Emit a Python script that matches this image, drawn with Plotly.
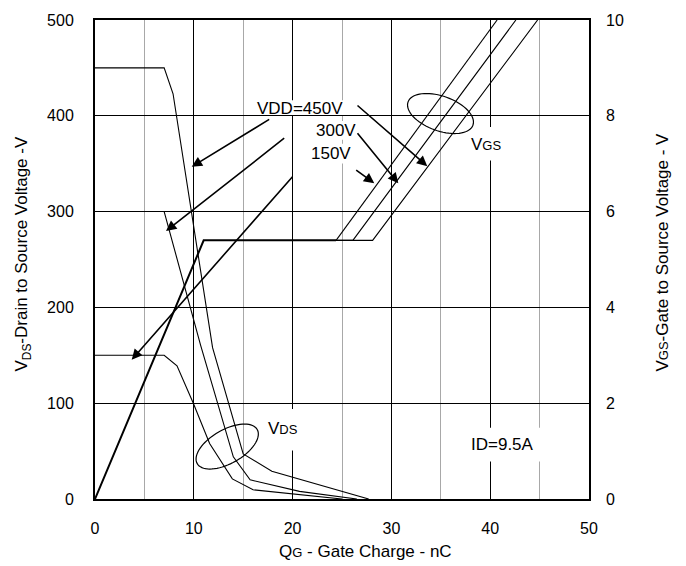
import numpy as np
import plotly.graph_objects as go

# ---------------- data ----------------
vds150_q = [0, 7.0, 8.3, 9.95, 11.6, 13.9, 16.0, 20.7, 25.0]
vds150_v = [150, 150, 139, 100, 58, 21, 9.6, 4.4, 0]
vds300_q = [7.0, 10.7, 14.0, 15.7, 20.7, 26.5]
vds300_v = [300, 160, 44, 20, 8, 0]
vds450_q = [0, 7.0, 7.9, 11.9, 15.0, 17.9, 27.7]
vds450_v = [450, 450, 423, 158, 47, 29, 0]

vgs_main_q = [0, 11.0, 24.4]
vgs_main_v = [0, 5.4, 5.4]
vgs150_q = [24.4, 40.7]
vgs150_v = [5.4, 10.0]
vgs300_q = [24.4, 26.1, 42.6]
vgs300_v = [5.4, 5.4, 10.0]
vgs450_q = [24.4, 28.1, 44.8]
vgs450_v = [5.4, 5.4, 10.0]

x_ticks = [0, 10, 20, 30, 40, 50]
y_ticks = [0, 100, 200, 300, 400, 500]
y2_ticks = [0, 2, 4, 6, 8, 10]

FONT = "Liberation Sans, Arial, sans-serif"
W, H = 686, 566
L, R, T, B = 95, 97, 15, 67
PW, PH = W - L - R, H - T - B


def to_data(px, py):
    return (px - L) / PW * 50.0, (H - B - py) / PH * 500.0


fig = go.Figure()
thin = dict(color="black", width=1.1)
fig.add_trace(go.Scatter(x=vds150_q, y=vds150_v, mode="lines", line=thin))
fig.add_trace(go.Scatter(x=vds300_q, y=vds300_v, mode="lines", line=thin))
fig.add_trace(go.Scatter(x=vds450_q, y=vds450_v, mode="lines", line=thin))
fig.add_trace(go.Scatter(x=vgs_main_q, y=vgs_main_v, mode="lines", yaxis="y2",
                         line=dict(color="black", width=2)))
for qq, vv in [(vgs150_q, vgs150_v), (vgs300_q, vgs300_v), (vgs450_q, vgs450_v)]:
    fig.add_trace(go.Scatter(x=qq, y=vv, mode="lines", yaxis="y2", line=thin))

shapes = []
# white boxes behind labels (cover gridlines only)
for (x0, y0, x1, y1) in [(255, 96, 347, 111), (313, 117, 358, 136), (305, 140, 357, 160),
                         (468, 123, 504, 157), (264, 408, 302, 450), (466, 427, 545, 461)]:
    a0, b0 = to_data(x0, y1)
    a1, b1 = to_data(x1, y0)
    shapes.append(dict(type="rect", xref="x", yref="y", x0=a0, x1=a1, y0=b0, y1=b1,
                       fillcolor="white", line=dict(width=0), layer="between"))

# ellipses
def ellipse(cx, cy, a, b, ang_deg):
    t = np.linspace(0, 2 * np.pi, 73)
    th = np.deg2rad(ang_deg)
    ex = a * np.cos(t)
    ey = b * np.sin(t)
    px = cx + ex * np.cos(th) - ey * np.sin(th)
    py = cy + ex * np.sin(th) + ey * np.cos(th)
    pts = [to_data(u, v) for u, v in zip(px, py)]
    path = "M " + " L ".join(f"{p[0]:.4f},{p[1]:.4f}" for p in pts) + " Z"
    return dict(type="path", xref="x", yref="y", path=path,
                line=dict(color="black", width=1.2), layer="above")

shapes.append(ellipse(440.5, 109.5, 34.5, 17.5, 20))
shapes.append(ellipse(227.2, 446.0, 34.6, 17.0, -30))

annotations = []
def txt(px, py, s, size=17):
    q, v = to_data(px, py)
    annotations.append(dict(x=q, y=v, xref="x", yref="y", text=s, showarrow=False,
                            font=dict(family=FONT, size=size, color="black"),
                            xanchor="center", yanchor="middle"))

txt(300, 104, "VDD=450V")
txt(335.5, 127, "300V")
txt(331, 150, "150V")
txt(486, 141, "V<span style='font-size:13px'>GS</span>")
txt(283, 428, "V<span style='font-size:13px'>DS</span>")
txt(502.7, 443.7, "ID=9.5A")

def arrow(tx, ty, hx, hy):
    aq, av = to_data(tx, ty)
    hq, hv = to_data(hx, hy)
    annotations.append(dict(x=hq, y=hv, ax=aq, ay=av, xref="x", yref="y",
                            axref="x", ayref="y", text=" ", showarrow=True,
                            arrowhead=2, arrowsize=1.3, arrowwidth=1.6,
                            arrowcolor="black", standoff=0, startstandoff=0))

arrow(272.7, 113.3, 191.7, 163.3)
arrow(287.7, 131.7, 166.0, 228.3)
arrow(296.0, 169.3, 131.7, 358.3)
arrow(354.0, 98.3, 427.3, 162.7)
arrow(354.0, 125.0, 398.3, 180.0)
arrow(352.7, 164.0, 374.3, 180.0)

# axis titles
annotations.append(dict(x=(365 - L) / PW, y=(H - B - 552) / PH, xref="paper", yref="paper",
                        text="Q<span style='font-size:13px'>G</span> - Gate Charge - nC",
                        showarrow=False, font=dict(family=FONT, size=17, color="black"),
                        xanchor="center", yanchor="middle"))
annotations.append(dict(x=(23 - L) / PW, y=(H - B - 252) / PH, xref="paper", yref="paper",
                        text="V<sub>DS</sub>-Drain to Source Voltage -V", textangle=-90,
                        showarrow=False, font=dict(family=FONT, size=17, color="black"),
                        xanchor="center", yanchor="middle"))
annotations.append(dict(x=(663 - L) / PW, y=(H - B - 250) / PH, xref="paper", yref="paper",
                        text="V<span style='font-size:13px'>GS</span>-Gate to Source Voltage - V",
                        textangle=-90,
                        showarrow=False, font=dict(family=FONT, size=17, color="black"),
                        xanchor="center", yanchor="middle"))

fig.update_layout(
    width=W, height=H,
    margin=dict(l=L, r=R, t=T, b=B, pad=0),
    paper_bgcolor="white", plot_bgcolor="white",
    showlegend=False,
    font=dict(family=FONT, size=16, color="black"),
    xaxis=dict(range=[0, 50], tickvals=x_ticks, ticktext=[str(v) for v in x_ticks],
               showgrid=True, gridcolor="black", gridwidth=1,
               minor=dict(dtick=5, showgrid=True, gridcolor="#a8a8a8", gridwidth=1),
               showline=True, linecolor="black", linewidth=2, mirror=True,
               ticks="", ticklabelstandoff=14, zeroline=False,
               tickfont=dict(family=FONT, size=16, color="black")),
    yaxis=dict(range=[0, 500], tickvals=y_ticks, ticktext=[str(v) for v in y_ticks],
               showgrid=True, gridcolor="black", gridwidth=1,
               showline=True, linecolor="black", linewidth=2, mirror=True,
               ticks="", ticklabelstandoff=16, zeroline=False,
               tickfont=dict(family=FONT, size=16, color="black")),
    yaxis2=dict(range=[0, 10], tickvals=y2_ticks, ticktext=[str(v) for v in y2_ticks],
                overlaying="y", side="right", showgrid=False, showline=False,
                ticks="", ticklabelstandoff=16, zeroline=False,
                tickfont=dict(family=FONT, size=16, color="black")),
    shapes=shapes,
    annotations=annotations,
)

fig.write_html("out.html")
